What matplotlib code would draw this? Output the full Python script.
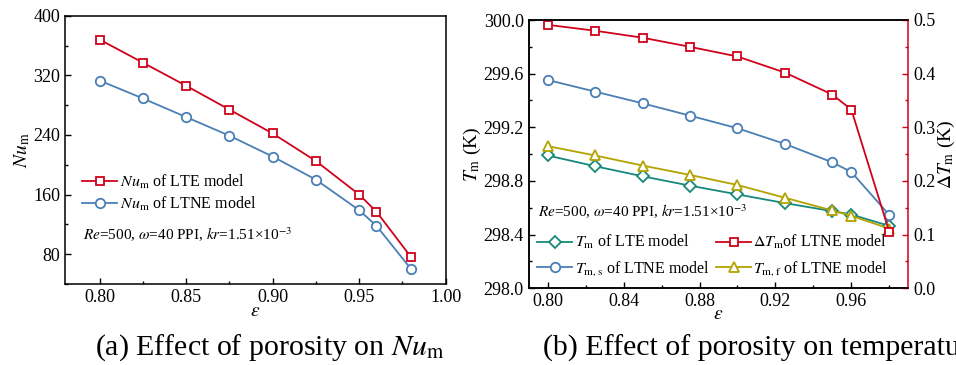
import matplotlib
matplotlib.use("Agg")
import matplotlib.pyplot as plt
from matplotlib.ticker import MultipleLocator

plt.rcParams['font.family'] = 'serif'
plt.rcParams['font.serif'] = ['Liberation Serif', 'DejaVu Serif']
plt.rcParams['mathtext.fontset'] = 'stix'

# porosity values
eps = [0.80, 0.825, 0.85, 0.875, 0.90, 0.925, 0.95, 0.96, 0.98]

# (a) mean Nusselt number
nu_lte = [368, 337, 306, 274, 242, 205, 160, 137, 76]
nu_ltne = [313, 289, 264, 239, 211, 180, 139, 118, 60]

# (b) mean temperatures (K) and temperature difference
tm_lte = [298.99, 298.91, 298.835, 298.765, 298.70, 298.635, 298.575, 298.55, 298.465]
tm_s = [299.553, 299.466, 299.379, 299.287, 299.193, 299.076, 298.939, 298.867, 298.546]
tm_f = [299.06, 298.99, 298.915, 298.845, 298.77, 298.675, 298.58, 298.54, 298.445]
dtm = [0.491, 0.480, 0.467, 0.450, 0.432, 0.402, 0.361, 0.333, 0.105]

RED = '#d0021b'
BLUE = '#4a7fb5'
TEAL = '#17887a'
OLIVE = '#b3a300'

W, H = 956, 365
fig = plt.figure(figsize=(W / 100, H / 100), dpi=100)

def px_axes(l, t, r, b):
    return fig.add_axes([l / W, 1 - b / H, (r - l) / W, (b - t) / H])

def style(ax):
    for s in ax.spines.values():
        s.set_linewidth(1.1)
    ax.tick_params(which='both', direction='in', labelsize=13, width=1.0)
    ax.tick_params(which='major', length=4)
    ax.tick_params(which='minor', length=2.3)

lw, mew = 1.3, 1.3
annot = r'$\mathit{Re}$=500, $\omega$=40 PPI, $\mathit{kr}$=1.51×10$^{-3}$'

# ---------- (a) ----------
ax1 = px_axes(65, 15.7, 445.7, 284)
ax1.plot(eps, nu_lte, '-s', color=RED, lw=lw, ms=6.2, mfc='white', mew=mew,
         label=r'$\mathit{Nu}_\mathrm{m}$ of LTE model')
ax1.plot(eps, nu_ltne, '-o', color=BLUE, lw=lw, ms=6.8, mfc='white', mew=mew,
         label=r'$\mathit{Nu}_\mathrm{m}$ of LTNE model')
ax1.set_xlim(0.78, 1.00)
ax1.set_ylim(40, 400)
ax1.xaxis.set_major_locator(MultipleLocator(0.05))
ax1.xaxis.set_minor_locator(MultipleLocator(0.025))
ax1.yaxis.set_major_locator(MultipleLocator(80))
ax1.yaxis.set_minor_locator(MultipleLocator(40))
ax1.xaxis.set_major_formatter(plt.FuncFormatter(lambda v, p: f'{v:.2f}'))
style(ax1)
ax1.set_xlabel(r'$\varepsilon$', fontsize=14, labelpad=-2)
ax1.set_ylabel(r'$\mathit{Nu}_\mathrm{m}$', fontsize=14, labelpad=1)
ax1.legend(loc='center left', bbox_to_anchor=(0.045, 0.341), frameon=False,
           fontsize=11.5, handlelength=2.2, handletextpad=0.15,
           labelspacing=0.25, borderpad=0, borderaxespad=0)
ax1.text(0.046, 0.183, annot, transform=ax1.transAxes, fontsize=11,
         va='center', ha='left')

# ---------- (b) ----------
ax2 = px_axes(528.7, 20, 908.3, 288.3)
ax3 = ax2.twinx()
h1, = ax2.plot(eps, tm_lte, '-D', color=TEAL, lw=lw, ms=6.2, mfc='white', mew=mew,
               label=r'$T_\mathrm{m}$ of LTE model')
h2, = ax2.plot(eps, tm_s, '-o', color=BLUE, lw=lw, ms=6.8, mfc='white', mew=mew,
               label=r'$T_\mathrm{m,s}$ of LTNE model')
h4, = ax2.plot(eps, tm_f, '-^', color=OLIVE, lw=lw, ms=7.5, mfc='white', mew=mew,
               label=r'$T_\mathrm{m,f}$ of LTNE model')
h3, = ax3.plot(eps, dtm, '-s', color=RED, lw=lw, ms=6.2, mfc='white', mew=mew,
               label=r'$\Delta T_\mathrm{m}$of LTNE model')
ax2.set_xlim(0.79, 0.99)
ax2.set_ylim(298.0, 300.0)
ax3.set_ylim(0.0, 0.5)
ax2.xaxis.set_major_locator(MultipleLocator(0.04))
ax2.xaxis.set_minor_locator(MultipleLocator(0.02))
ax2.xaxis.set_major_formatter(plt.FuncFormatter(lambda v, p: f'{v:.2f}'))
ax2.yaxis.set_major_locator(MultipleLocator(0.4))
ax2.yaxis.set_minor_locator(MultipleLocator(0.2))
ax2.yaxis.set_major_formatter(plt.FuncFormatter(lambda v, p: f'{v:.1f}'))
ax3.yaxis.set_major_locator(MultipleLocator(0.1))
ax3.yaxis.set_minor_locator(MultipleLocator(0.05))
ax3.yaxis.set_major_formatter(plt.FuncFormatter(lambda v, p: f'{v:.1f}'))
style(ax2)
style(ax3)
ax2.spines['right'].set_visible(False)
ax3.spines['right'].set_color(RED)
ax3.tick_params(axis='y', which='both', colors=RED, labelcolor='black')
ax2.set_xlabel(r'$\varepsilon$', fontsize=14, labelpad=-3)
ax2.set_ylabel(r'$T_\mathrm{m}$ (K)', fontsize=14, labelpad=0)
ax3.set_ylabel(r'$\Delta T_\mathrm{m}$ (K)', fontsize=14, labelpad=0)
ax3.legend(handles=[h1, h2, h3, h4], ncol=2, loc='center left',
           bbox_to_anchor=(0.022, 0.121), frameon=False, fontsize=11.5,
           handlelength=2.2, handletextpad=0.15, labelspacing=0.5,
           columnspacing=0.4, borderpad=0, borderaxespad=0)
ax2.text(0.025, 0.286, annot, transform=ax2.transAxes, fontsize=11,
         va='center', ha='left')

# captions
fig.text(270 / W, 1 - 348 / H, r'(a) Effect of porosity on $\mathit{Nu}_\mathrm{m}$',
         fontsize=21.5, ha='center', va='center')
fig.text(543 / W, 1 - 348 / H, '(b) Effect of porosity on temperature',
         fontsize=21.5, ha='left', va='center')

fig.savefig('out.png', dpi=100)
